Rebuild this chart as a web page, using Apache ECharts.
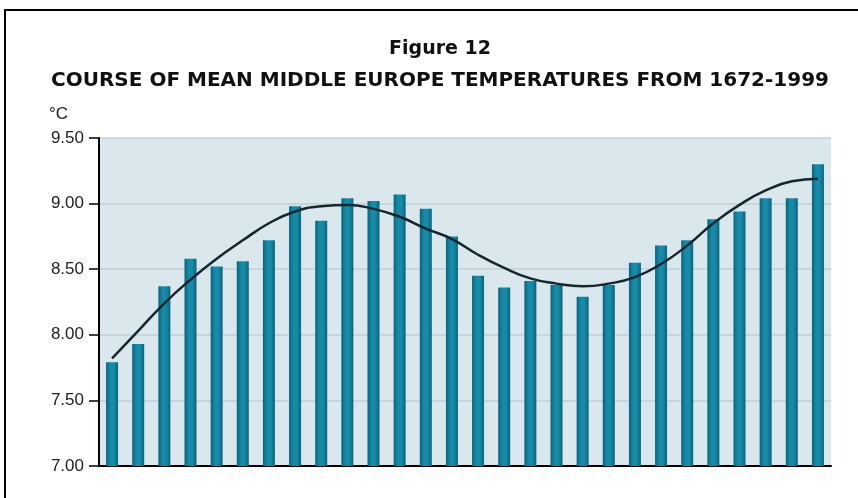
<!DOCTYPE html>
<html>
<head>
<meta charset="utf-8">
<script src="https://cdn.jsdelivr.net/npm/echarts@6/dist/echarts.min.js"></script>
<style>
  html, body { margin: 0; padding: 0; background: #fff; }
  #wrap { position: relative; width: 858px; height: 498px; overflow: hidden; }
  #temp-chart { width: 858px; height: 498px; }
  /* frame: only top and left edges are visible in the scan */
  #frame {
    position: absolute; left: 4px; top: 9px; width: 900px; height: 600px;
    border-top: 2px solid #000; border-left: 2px solid #000; pointer-events: none;
  }
</style>
</head>
<body>
<div id="wrap">
  <div id="temp-chart"></div>
  <div id="frame"></div>
</div>
<script>
// 28 periods, 1672-1999 (no labels printed on x axis)
const periods = [
  'P1', 'P2', 'P3', 'P4', 'P5', 'P6', 'P7', 'P8', 'P9', 'P10',
  'P11', 'P12', 'P13', 'P14', 'P15', 'P16', 'P17', 'P18', 'P19', 'P20',
  'P21', 'P22', 'P23', 'P24', 'P25', 'P26', 'P27', 'P28'
];

// mean temperature per period, °C
const meanTemps = [
  7.79, 7.93, 8.37, 8.58, 8.52, 8.56, 8.72, 8.98, 8.87, 9.04,
  9.02, 9.07, 8.96, 8.75, 8.45, 8.36, 8.41, 8.38, 8.29, 8.38,
  8.55, 8.68, 8.72, 8.88, 8.94, 9.04, 9.04, 9.30
];

// smoothed trend curve
const trendTemps = [
  7.82, 8.03, 8.24, 8.42, 8.58, 8.72, 8.85, 8.94, 8.98, 8.99,
  8.96, 8.90, 8.81, 8.73, 8.61, 8.51, 8.43, 8.39, 8.37, 8.39,
  8.44, 8.54, 8.68, 8.85, 8.99, 9.10, 9.17, 9.19
];

const yTicks = ['7.00', '7.50', '8.00', '8.50', '9.00', '9.50'];

const chart = echarts.init(document.getElementById('temp-chart'));

// bars are darker at the edges, like the printed original
const barFill = new echarts.graphic.LinearGradient(0, 0, 1, 0, [
  { offset: 0, color: '#0b627a' },
  { offset: 0.35, color: '#168ba7' },
  { offset: 0.65, color: '#168ba7' },
  { offset: 1, color: '#0b627a' }
]);

const option = {
  backgroundColor: '#fff',
  animation: false,
  title: [
    {
      text: 'Figure 12',
      left: 435, top: 35, textAlign: 'center',
      textStyle: { fontFamily: 'DejaVu Sans', fontWeight: 'bold', fontSize: 19, color: '#111' }
    },
    {
      text: 'COURSE OF MEAN MIDDLE EUROPE TEMPERATURES FROM 1672-1999',
      left: 435, top: 66, textAlign: 'center',
      textStyle: { fontFamily: 'DejaVu Sans', fontWeight: 'bold', fontSize: 20, color: '#111' }
    },
    {
      text: '°C',
      left: 44, top: 101,
      textStyle: { fontFamily: 'Liberation Sans', fontWeight: 'normal', fontSize: 17, color: '#222' }
    }
  ],
  grid: {
    left: 99, right: 27, top: 138, bottom: 32,
    show: true, backgroundColor: '#dae8ee', borderWidth: 0
  },
  xAxis: {
    type: 'category',
    data: periods,
    axisLine: { lineStyle: { color: '#000', width: 2 } },
    axisTick: { show: false },
    axisLabel: { show: false }
  },
  yAxis: {
    type: 'value',
    min: 7, max: 9.5, interval: 0.5,
    axisLine: { show: true, lineStyle: { color: '#000', width: 2 } },
    axisTick: { show: true, length: 10, lineStyle: { color: '#000', width: 1.5 } },
    axisLabel: {
      margin: 15,
      fontFamily: 'Liberation Sans', fontSize: 17, color: '#222',
      formatter: (v) => yTicks[Math.round((v - 7) / 0.5)]
    },
    splitLine: { show: true, lineStyle: { color: '#b6c5cc', width: 1.5, opacity: 0.7 } }
  },
  series: [
    {
      name: 'Mean temperature',
      type: 'bar',
      data: meanTemps,
      barWidth: 12,
      itemStyle: { color: barFill },
      z: 2
    },
    {
      name: 'Trend',
      type: 'line',
      data: trendTemps,
      smooth: 0.5,
      showSymbol: false,
      lineStyle: { color: '#15262e', width: 2.5 },
      z: 3
    }
  ]
};

chart.setOption(option);
</script>
</body>
</html>
